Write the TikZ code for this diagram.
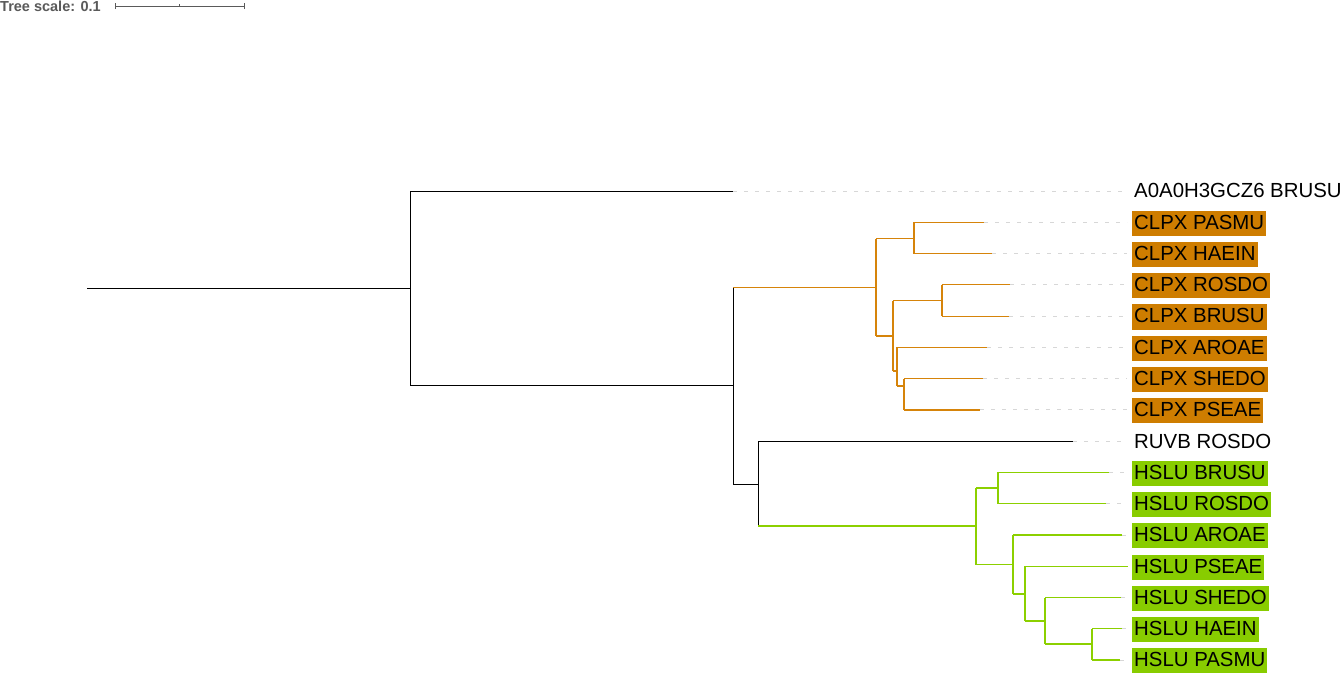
\documentclass[tikz,border=0pt]{standalone}
\usepackage{fontspec}
\setmainfont{Liberation Sans}
\definecolor{orline}{RGB}{214,132,10}
\definecolor{orfill}{RGB}{206,125,0}
\definecolor{grline}{RGB}{140,208,0}
\definecolor{grfill}{RGB}{136,204,0}
\definecolor{dashc}{RGB}{215,215,215}
\definecolor{scalec}{RGB}{90,90,90}
\begin{document}
\begin{tikzpicture}[x=1pt,y=-1pt,
  blk/.style={draw=black,line width=1pt},
  org/.style={draw=orline,line width=1.2pt},
  grn/.style={draw=grline,line width=1.2pt},
  guide/.style={draw=dashc,line width=0.9pt,dash pattern=on 4pt off 7pt},
  lab/.style={anchor=base west,inner xsep=2pt,inner ysep=2pt,text height=16.5pt,text depth=4.6pt,font=\fontsize{20.4}{24}\selectfont,text=black},
  olab/.style={lab,fill=orfill},
  glab/.style={lab,fill=grfill}]
\useasboundingbox (0,0) rectangle (1343,673);
% scale bar
\node[anchor=base west,inner sep=0pt,text=scalec,font=\fontsize{14.5}{16}\selectfont\bfseries] (ts) at (0,11) {Tree scale: 0.1};
\coordinate (sb1) at (115,6);
\coordinate (sb2) at (244,6);
\coordinate (sbm) at (179.5,6);
\draw[scalec,line width=1pt] (sb1) -- (sb2);
\draw[scalec,line width=1pt] ([yshift=-3]sb1) -- ([yshift=3]sb1);
\draw[scalec,line width=1pt] ([yshift=-3]sb2) -- ([yshift=3]sb2);
\draw[scalec,line width=1pt] (sbm) -- ([yshift=2.5]sbm);
% leaves
\coordinate (l1) at (733,191);
\coordinate (l2) at (984,222.3);
\coordinate (l3) at (992,253.5);
\coordinate (l4) at (1010,284.8);
\coordinate (l5) at (1009,316.1);
\coordinate (l6) at (987,347.4);
\coordinate (l7) at (983,378.6);
\coordinate (l8) at (980,409.9);
\coordinate (l9) at (1073,441.2);
\coordinate (l10) at (1109,472.4);
\coordinate (l11) at (1106,503.7);
\coordinate (l12) at (1122,535);
\coordinate (l13) at (1128,566.2);
\coordinate (l14) at (1121,597.5);
\coordinate (l15) at (1122,628.8);
\coordinate (l16) at (1120,660);
% internal nodes
\coordinate (r) at (87,288);
\coordinate (n0) at (410,288);
\coordinate (n1) at (733,385);
\coordinate (n2) at (876,287.5);
\coordinate (n4) at (914,238.5);
\coordinate (n5) at (893,336);
\coordinate (n6) at (942,300.5);
\coordinate (n7) at (897,371);
\coordinate (n8) at (904,386);
\coordinate (n3) at (758,484);
\coordinate (n9) at (976,526);
\coordinate (n10) at (998,488);
\coordinate (n11) at (1013,564.5);
\coordinate (n12) at (1025,594);
\coordinate (n13) at (1045,621);
\coordinate (n14) at (1092,644);
% labels
\node[lab] (t1) at (1132,197.8) {A0A0H3GCZ6 BRUSU};
\node[olab] (t2) at (1132,229.1) {CLPX PASMU};
\node[olab] (t3) at (1132,260.3) {CLPX HAEIN};
\node[olab] (t4) at (1132,291.6) {CLPX ROSDO};
\node[olab] (t5) at (1132,322.9) {CLPX BRUSU};
\node[olab] (t6) at (1132,354.2) {CLPX AROAE};
\node[olab] (t7) at (1132,385.4) {CLPX SHEDO};
\node[olab] (t8) at (1132,416.7) {CLPX PSEAE};
\node[lab] (t9) at (1132,448) {RUVB ROSDO};
\node[glab] (t10) at (1132,479.2) {HSLU BRUSU};
\node[glab] (t11) at (1132,510.5) {HSLU ROSDO};
\node[glab] (t12) at (1132,541.8) {HSLU AROAE};
\node[glab] (t13) at (1132,573) {HSLU PSEAE};
\node[glab] (t14) at (1132,604.3) {HSLU SHEDO};
\node[glab] (t15) at (1132,635.6) {HSLU HAEIN};
\node[glab] (t16) at (1132,666.8) {HSLU PASMU};
% guides
\foreach \i in {1,...,16}{
  \draw[guide] (l\i) -- ([xshift=-5pt]t\i.west |- l\i);
}
% black part
\draw[blk] (r) -- (n0);
\draw[blk] (n0 |- l1) -- (n0 |- n1);
\draw[blk] (n0 |- l1) -- (l1);
\draw[blk] (n0 |- n1) -- (n1);
\draw[blk] (n1 |- n2) -- (n1 |- n3);
\draw[blk] (n1 |- n3) -- (n3);
\draw[blk] (n3 |- l9) -- (n3 |- n9);
\draw[blk] (n3 |- l9) -- (l9);
% orange clade
\draw[org] (n1 |- n2) -- (n2);
\draw[org] (n2 |- n4) -- (n2 |- n5);
\draw[org] (n2 |- n4) -- (n4);
\draw[org] (n2 |- n5) -- (n5);
\draw[org] (n4 |- l2) -- (n4 |- l3);
\draw[org] (n4 |- l2) -- (l2);
\draw[org] (n4 |- l3) -- (l3);
\draw[org] (n5 |- n6) -- (n5 |- n7);
\draw[org] (n5 |- n6) -- (n6);
\draw[org] (n5 |- n7) -- (n7);
\draw[org] (n6 |- l4) -- (n6 |- l5);
\draw[org] (n6 |- l4) -- (l4);
\draw[org] (n6 |- l5) -- (l5);
\draw[org] (n7 |- l6) -- (n7 |- n8);
\draw[org] (n7 |- l6) -- (l6);
\draw[org] (n7 |- n8) -- (n8);
\draw[org] (n8 |- l7) -- (n8 |- l8);
\draw[org] (n8 |- l7) -- (l7);
\draw[org] (n8 |- l8) -- (l8);
% green clade
\draw[grn] (n3 |- n9) -- (n9);
\draw[grn] (n9 |- n10) -- (n9 |- n11);
\draw[grn] (n9 |- n10) -- (n10);
\draw[grn] (n9 |- n11) -- (n11);
\draw[grn] (n10 |- l10) -- (n10 |- l11);
\draw[grn] (n10 |- l10) -- (l10);
\draw[grn] (n10 |- l11) -- (l11);
\draw[grn] (n11 |- l12) -- (n11 |- n12);
\draw[grn] (n11 |- l12) -- (l12);
\draw[grn] (n11 |- n12) -- (n12);
\draw[grn] (n12 |- l13) -- (n12 |- n13);
\draw[grn] (n12 |- l13) -- (l13);
\draw[grn] (n12 |- n13) -- (n13);
\draw[grn] (n13 |- l14) -- (n13 |- n14);
\draw[grn] (n13 |- l14) -- (l14);
\draw[grn] (n13 |- n14) -- (n14);
\draw[grn] (n14 |- l15) -- (n14 |- l16);
\draw[grn] (n14 |- l15) -- (l15);
\draw[grn] (n14 |- l16) -- (l16);
\end{tikzpicture}
\end{document}
